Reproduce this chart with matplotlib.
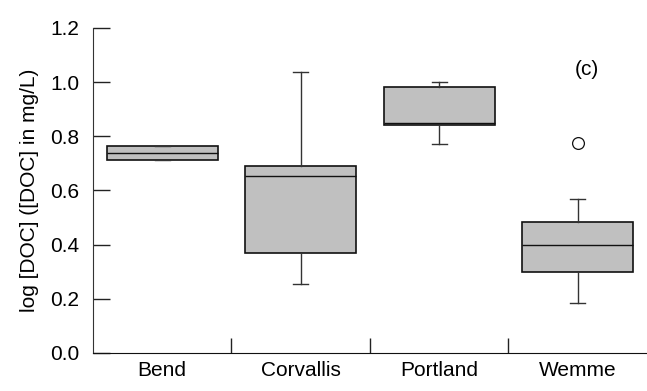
import matplotlib
matplotlib.use("Agg")
import matplotlib.pyplot as plt
from matplotlib.ticker import FixedLocator

plt.rcParams['font.family'] = ['Liberation Sans', 'DejaVu Sans']

# Summary statistics of log DOC per site
sites = ["Bend", "Corvallis", "Portland", "Wemme"]
whisker_low = [0.711, 0.256, 0.770, 0.185]
q1 = [0.711, 0.370, 0.841, 0.300]
median = [0.737, 0.652, 0.848, 0.400]
q3 = [0.763, 0.689, 0.981, 0.485]
whisker_high = [0.763, 1.037, 1.000, 0.567]
outliers = [[], [], [], [0.774]]

stats = []
for i, name in enumerate(sites):
    stats.append(dict(label=name, whislo=whisker_low[i], q1=q1[i], med=median[i],
                      q3=q3[i], whishi=whisker_high[i], fliers=outliers[i]))

fig = plt.figure(figsize=(6.47, 3.91), dpi=100)
ax = fig.add_axes([0.1437, 0.0972, 0.856, 0.8312])

positions = list(range(1, len(sites) + 1))
ax.bxp(stats, positions=positions, widths=0.8, patch_artist=True,
       boxprops=dict(facecolor='#c0c0c0', edgecolor='#111111', linewidth=1.2),
       medianprops=dict(color='#111111', linewidth=1.0),
       whiskerprops=dict(color='#333333', linewidth=1.0),
       capprops=dict(color='#333333', linewidth=1.0),
       capwidths=0.11,
       flierprops=dict(marker='o', markersize=8.5, markerfacecolor='white',
                       markeredgecolor='#111111', markeredgewidth=0.9))

ax.set_xlim(0.5, len(sites) + 0.5)
ax.set_ylim(0, 1.2)
ax.set_yticks([0.0, 0.2, 0.4, 0.6, 0.8, 1.0, 1.2])
ax.set_yticklabels(["0.0", "0.2", "0.4", "0.6", "0.8", "1.0", "1.2"])
ax.set_xticks(positions)
ax.set_xticklabels(sites)
ax.xaxis.set_minor_locator(FixedLocator([1.5, 2.5, 3.5]))

fs = 15
ax.tick_params(axis='y', direction='in', length=12, width=1.0, color='#222222',
               labelsize=fs, pad=10)
ax.tick_params(axis='x', which='major', length=0, labelsize=fs, pad=6)
ax.tick_params(axis='x', which='minor', direction='in', length=11, width=1.0,
               color='#222222')

for side in ('top', 'right'):
    ax.spines[side].set_visible(False)
ax.spines['left'].set_color('#333333')
ax.spines['bottom'].set_color('#111111')

ax.set_ylabel("log [DOC] ([DOC] in mg/L)", fontsize=fs, labelpad=8)
ax.text(4.07, 1.048, "(c)", fontsize=fs, ha='center', va='center')

fig.savefig("out.png", dpi=100)
